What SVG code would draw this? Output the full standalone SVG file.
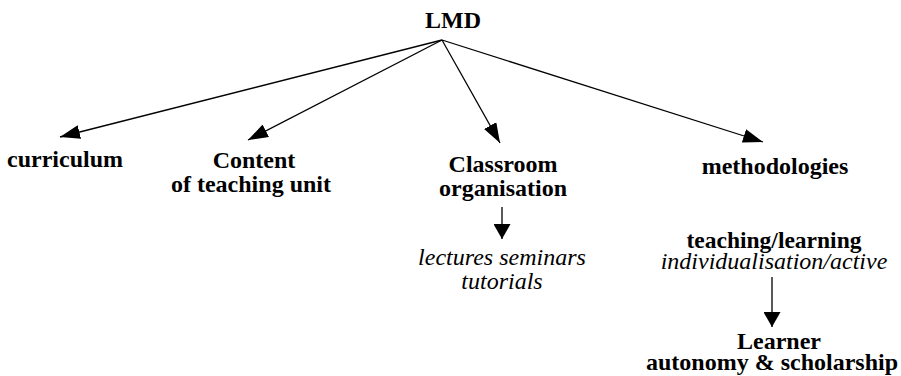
<svg xmlns="http://www.w3.org/2000/svg" width="901" height="376" viewBox="0 0 901 376">
<style>
  text { font-family: 'Liberation Serif', 'DejaVu Serif', serif; fill: #000; text-anchor: middle; }
  .b { font-weight: bold; font-size: 24px; }
  .i { font-style: italic; font-size: 24px; }
  .edge { stroke: #000; stroke-width: 1.3; fill: none; }
</style>
<defs>
  <marker id="big" markerUnits="userSpaceOnUse" viewBox="0 0 20 14" refX="20" refY="7" markerWidth="20" markerHeight="14" orient="auto">
    <path d="M0,0 L20,7 L0,14 z" fill="#000"/>
  </marker>
  <marker id="small" markerUnits="userSpaceOnUse" viewBox="0 0 15 17" refX="15" refY="8.5" markerWidth="15" markerHeight="17" orient="auto">
    <path d="M0,0 L15,8.5 L0,17 z" fill="#000"/>
  </marker>
</defs>
<g id="connectors">
  <line class="edge" x1="442" y1="40" x2="60" y2="137" marker-end="url(#big)"/>
  <line class="edge" x1="442" y1="40" x2="248" y2="140" marker-end="url(#big)"/>
  <line class="edge" x1="442" y1="40" x2="500" y2="143" marker-end="url(#big)"/>
  <line class="edge" x1="442" y1="40" x2="763" y2="142" marker-end="url(#big)"/>
  <line class="edge" x1="502" y1="207" x2="502" y2="239" marker-end="url(#small)"/>
  <line class="edge" x1="772" y1="277" x2="772" y2="327" marker-end="url(#small)"/>
</g>
<g id="lmd"><text class="b" x="453" y="28">LMD</text></g>
<g id="curriculum"><text class="b" x="65" y="167">curriculum</text></g>
<g id="content">
  <text class="b" x="254" y="168">Content</text>
  <text class="b" x="251" y="192">of teaching unit</text>
</g>
<g id="classroom">
  <text class="b" x="503" y="172">Classroom</text>
  <text class="b" x="503" y="196">organisation</text>
</g>
<g id="lectures">
  <text class="i" x="502" y="265">lectures seminars</text>
  <text class="i" x="502" y="289">tutorials</text>
</g>
<g id="methodologies"><text class="b" x="775" y="174">methodologies</text></g>
<g id="teaching">
  <text class="b" x="774" y="248" style="font-size:23.5px">teaching/learning</text>
  <text class="i" x="774" y="269">individualisation/active</text>
</g>
<g id="learner">
  <text class="b" x="779" y="349">Learner</text>
  <text class="b" x="772" y="370">autonomy &amp; scholarship</text>
</g>
</svg>
